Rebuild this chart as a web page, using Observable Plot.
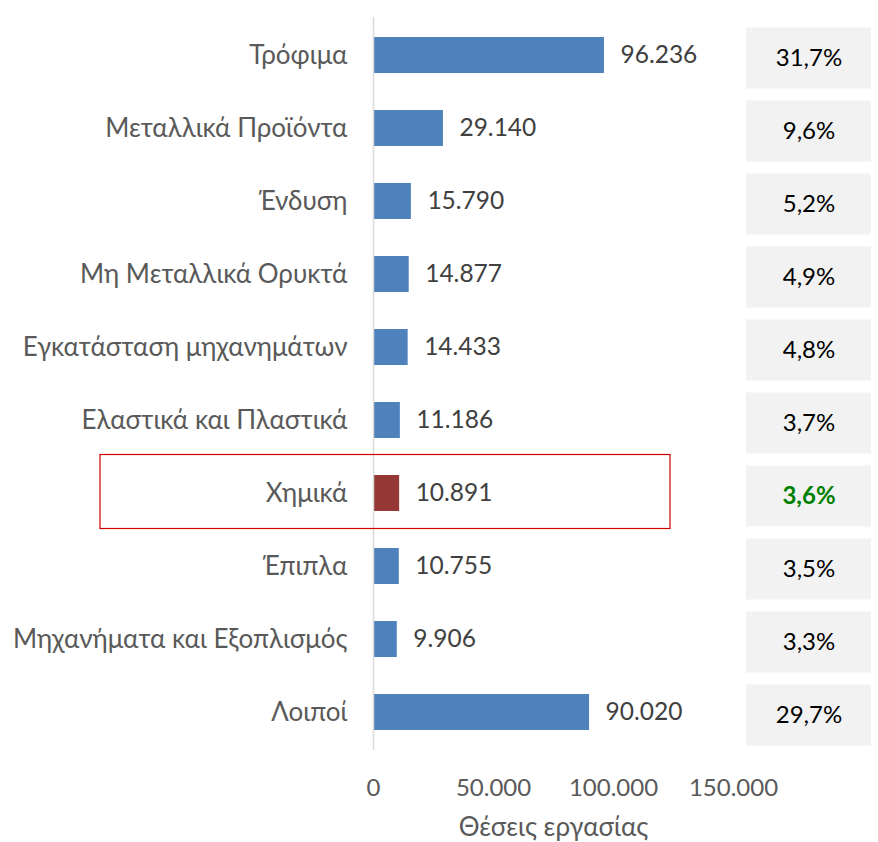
<!DOCTYPE html>
<html><head><meta charset="utf-8">
<script src="https://cdn.jsdelivr.net/npm/d3@7"></script>
<script src="https://cdn.jsdelivr.net/npm/@observablehq/plot@0.6"></script>
<style>body{margin:0;background:#fff}</style>
</head><body><div id="chart"></div>
<script>
const categories = ["Τρόφιμα","Μεταλλικά Προϊόντα","Ένδυση","Μη Μεταλλικά Ορυκτά","Εγκατάσταση μηχανημάτων","Ελαστικά και Πλαστικά","Χημικά","Έπιπλα","Μηχανήματα και Εξοπλισμός","Λοιποί"];
const jobs = [96236, 29140, 15790, 14877, 14433, 11186, 10891, 10755, 9906, 90020];
const shares = [31.7, 9.6, 5.2, 4.9, 4.8, 3.7, 3.6, 3.5, 3.3, 29.7];
const highlight = "Χημικά";
const xTicks = [0, 50000, 100000, 150000];
const axisTitle = "Θέσεις εργασίας";

const locale = d3.formatLocale({decimal: ",", thousands: ".", grouping: [3], currency: ["", "€"]});
const fmtInt = locale.format(",d");
const fmtPct = locale.format(".1%");
const rows = categories.map((c, i) => ({cat: c, jobs: jobs[i], share: shares[i]}));

// layout
const W = 878, H = 842, mL = 373, mR = 145, mT = 17, mB = 92;
const xMax = 150000;
const pxPerUnit = (W - mL - mR) / xMax;
const pxToX = px => (px - mL) / pxPerUnit;
const boxX1 = pxToX(746), boxX2 = pxToX(871), boxMid = pxToX(808.5);
const hiX1 = pxToX(100), hiX2 = pxToX(670);

const chart = Plot.plot({
  width: W, height: H,
  marginLeft: mL, marginRight: mR, marginTop: mT, marginBottom: mB,
  style: {fontFamily: "Lato", fontSize: "24px", color: "#595959", background: "white", overflow: "visible"},
  x: {domain: [0, xMax], ticks: xTicks, tickFormat: fmtInt, tickSize: 0, tickPadding: 28, label: null},
  y: {domain: categories, paddingInner: 0.51, paddingOuter: 0.255, tickSize: 0, tickPadding: 26, label: null},
  color: {type: "identity"},
  marks: [
    Plot.barX(rows, {y: "cat", x1: () => boxX1, x2: () => boxX2, fill: "#f2f2f2", insetTop: -12.5, insetBottom: -12.5, dy: 3}),
    Plot.barX(rows, {y: "cat", x: "jobs", fill: d => d.cat === highlight ? "#953735" : "#4f81bd"}),
    Plot.ruleX([0], {stroke: "#d9d9d9", strokeWidth: 1.5}),
    Plot.text(rows, {y: "cat", x: "jobs", text: d => fmtInt(d.jobs), textAnchor: "start", dx: 16, fill: "#404040", fontSize: 24.5}),
    Plot.text(rows.filter(d => d.cat !== highlight), {y: "cat", x: () => boxMid, text: d => fmtPct(d.share / 100), fill: "#000", dy: 3}),
    Plot.text(rows.filter(d => d.cat === highlight), {y: "cat", x: () => boxMid, text: d => fmtPct(d.share / 100), fill: "#008000", fontWeight: "bold", dy: 3}),
    Plot.barX([highlight], {y: d => d, x1: () => hiX1, x2: () => hiX2, fill: "none", stroke: "#d00000", strokeWidth: 1.2, insetTop: -20.5, insetBottom: -17.5}),
    Plot.text([axisTitle], {frameAnchor: "bottom", dy: 85, fill: "#595959", fontSize: 26})
  ]
});
chart.querySelectorAll("[aria-label='y-axis tick label'] text, g[aria-label='y-axis'] text").forEach(t => t.setAttribute("font-size", "26"));
document.getElementById("chart").appendChild(chart);
</script>
</body></html>
